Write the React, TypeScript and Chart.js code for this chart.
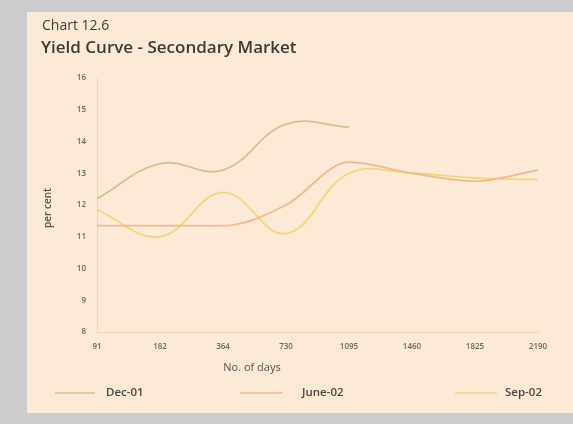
import React, { useEffect, useRef } from "react";
import { Chart, registerables } from "chart.js";

Chart.register(...registerables);

// Residual maturity buckets (days)
const maturities = ["91", "182", "364", "730", "1095", "1460", "1825", "2190"];

// Secondary market yields, per cent
const dec01 = [12.2, 13.3, 13.1, 14.55, 14.45, null, null, null];
const june02 = [11.35, 11.35, 11.35, 12.0, 13.35, 13.0, 12.75, 13.1];
const sep02 = [11.85, 11.0, 12.4, 11.1, 13.0, 13.0, 12.85, 12.8];

const seriesNames = ["Dec-01", "June-02", "Sep-02"];
const seriesColors = ["#d8c08c", "#f2b88e", "#f6d47a"];

const yTicks = { min: 8, max: 16, step: 1 };

const FONT = "'Open Sans', 'Noto Sans', sans-serif";

const framePlugin = {
  id: "frame",
  beforeDraw(chart: any) {
    const { ctx, width, height } = chart;
    ctx.save();
    ctx.fillStyle = "#cccccc";
    ctx.fillRect(0, 0, width, height);
    ctx.fillStyle = "#fcead6";
    ctx.fillRect(27, 12, width - 27, 401);
    ctx.restore();
  },
  afterDraw(chart: any) {
    const { ctx } = chart;
    ctx.save();
    ctx.fillStyle = "#3c3a38";
    ctx.textBaseline = "middle";
    ctx.textAlign = "left";
    ctx.font = `14px ${FONT}`;
    ctx.fillText("Chart 12.6", 42, 26);
    ctx.font = `600 17px ${FONT}`;
    ctx.fillText("Yield Curve - Secondary Market", 41, 48);

    // axis titles
    ctx.fillStyle = "#55524f";
    ctx.font = `11px ${FONT}`;
    ctx.textAlign = "center";
    ctx.fillText("No. of days", 252, 368);
    ctx.save();
    ctx.translate(48, 208);
    ctx.rotate(-Math.PI / 2);
    ctx.font = `600 10px ${FONT}`;
    ctx.fillText("per cent", 0, 0);
    ctx.restore();

    // legend
    const legendX = [[55, 95, 106], [240, 283, 302], [455, 497, 505]];
    const ly = 393;
    ctx.font = `600 11.5px ${FONT}`;
    ctx.textAlign = "left";
    seriesNames.forEach((name, i) => {
      const [x0, x1, tx] = legendX[i];
      ctx.strokeStyle = seriesColors[i];
      ctx.lineWidth = 1.6;
      ctx.beginPath();
      ctx.moveTo(x0, ly);
      ctx.lineTo(x1, ly);
      ctx.stroke();
      ctx.fillStyle = "#4a4643";
      ctx.fillText(name, tx, ly);
    });
    ctx.restore();
  },
};

export default function App() {
  const ref = useRef<HTMLCanvasElement | null>(null);

  useEffect(() => {
    document.body.style.margin = "0";
    const canvas = ref.current;
    if (!canvas) return;
    const mk = (label: string, data: (number | null)[], color: string, mode: string) => ({
      label,
      data,
      borderColor: color,
      backgroundColor: color,
      borderWidth: 1.8,
      pointRadius: 0,
      tension: 0.4,
      cubicInterpolationMode: mode,
      spanGaps: false,
    });
    const chart = new Chart(canvas, {
      type: "line",
      data: {
        labels: maturities,
        datasets: [
          mk(seriesNames[0], dec01, seriesColors[0], "default"),
          mk(seriesNames[1], june02, seriesColors[1], "monotone"),
          mk(seriesNames[2], sep02, seriesColors[2], "default"),
        ] as any,
      },
      options: {
        responsive: false,
        animation: false,
        devicePixelRatio: 1,
        layout: { padding: { left: 67, right: 35, top: 78, bottom: 62 } },
        plugins: {
          legend: { display: false },
          title: { display: false },
          tooltip: { enabled: false },
        },
        scales: {
          x: {
            type: "category",
            offset: false,
            afterFit: (s: any) => { s.height = 30; },
            grid: { display: false, drawTicks: false },
            border: { display: true, color: "rgba(235,205,185,0.8)" },
            ticks: {
              padding: 10,
              maxRotation: 0,
              autoSkip: false,
              color: "#6a6561",
              font: { family: FONT, size: 8, weight: "600" },
            },
          },
          y: {
            min: yTicks.min,
            max: yTicks.max,
            afterFit: (s: any) => { s.width = 30; },
            grid: { display: false, drawTicks: false },
            border: { display: true, color: "rgba(235,205,185,0.8)" },
            ticks: {
              stepSize: yTicks.step,
              padding: 11,
              color: "#6a6561",
              font: { family: FONT, size: 8, weight: "600" },
            },
          },
        },
      } as any,
      plugins: [framePlugin],
    });
    return () => chart.destroy();
  }, []);

  return <canvas ref={ref} width={573} height={424} style={{ display: "block" }} />;
}
